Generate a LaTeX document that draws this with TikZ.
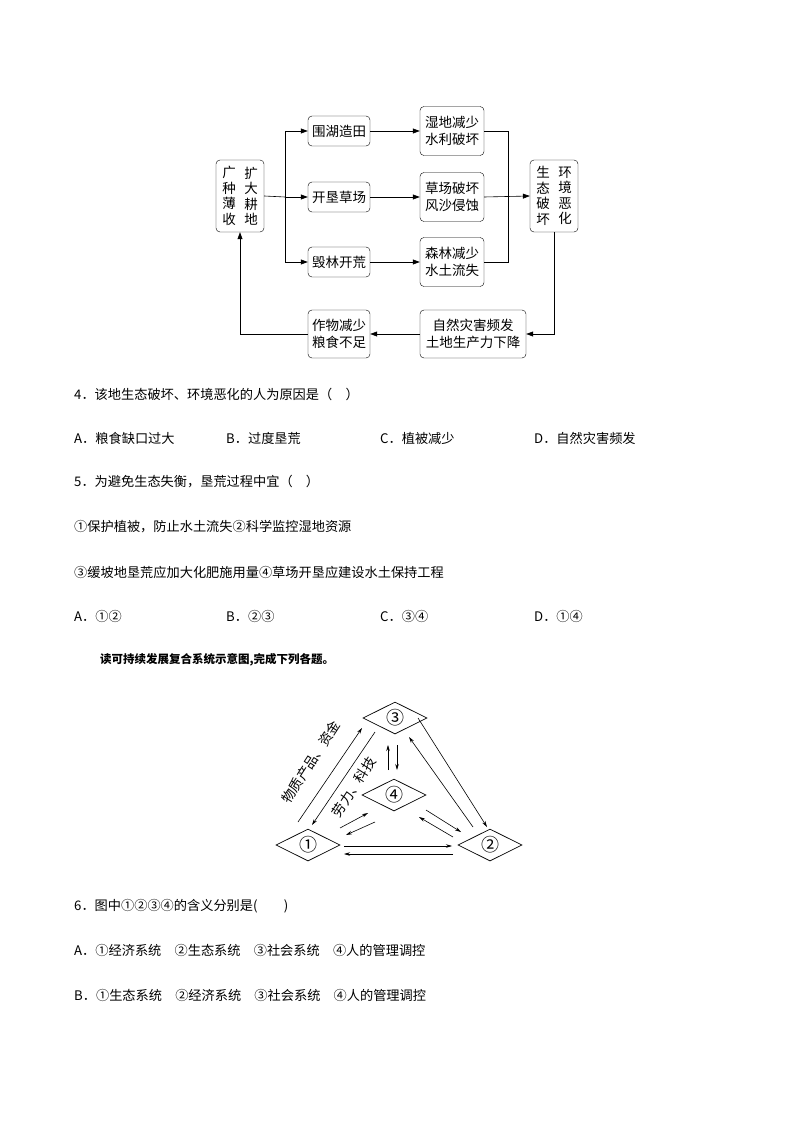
\documentclass[tikz,border=0pt]{standalone}
\usepackage{fontspec}
\newfontfamily\cjk{Noto Sans CJK SC}
\usetikzlibrary{shapes.geometric,arrows.meta}
\begin{document}
\begin{tikzpicture}[x=1pt,y=-1pt,
  box/.style={draw,rounded corners=4pt,font=\cjk\fontsize{13.5}{17}\selectfont,align=center,inner sep=0pt},
  vt/.style={font=\cjk\fontsize{13.5}{15.5}\selectfont,align=center},
  arr/.style={-{Triangle[length=7pt,width=5pt]},line width=0.6pt},
  dia/.style={draw,diamond,aspect=2,minimum width=64pt,minimum height=32pt,inner sep=0pt,line width=0.7pt,font=\cjk\fontsize{18}{18}\selectfont},
  tarr/.style={-{Stealth[length=6pt,width=3.5pt]},line width=0.6pt},
  lab/.style={font=\cjk\fontsize{13.5}{14}\selectfont,rotate=57,inner sep=0pt},
  q/.style={anchor=west,font=\cjk\fontsize{13.2}{15}\selectfont,inner sep=0pt}]
\useasboundingbox (0,0) rectangle (794,1123);
% flowchart
\node[box,minimum width=48pt,minimum height=72pt] (a) at (240,196) {};
\node[vt] at (229,196) {广\\种\\薄\\收};
\node[vt] at (251,196) {扩\\大\\耕\\地};
\node[box,minimum width=62pt,minimum height=30pt] (b1) at (339,131) {围湖造田};
\node[box,minimum width=62pt,minimum height=30pt] (b2) at (339,197) {开垦草场};
\node[box,minimum width=62pt,minimum height=30pt] (b3) at (339,262) {毁林开荒};
\node[box,minimum width=64pt,minimum height=49pt] (c1) at (452,131) {湿地减少\\水利破坏};
\node[box,minimum width=64pt,minimum height=49pt] (c2) at (452,197) {草场破坏\\风沙侵蚀};
\node[box,minimum width=64pt,minimum height=49pt] (c3) at (452,262) {森林减少\\水土流失};
\node[box,minimum width=48pt,minimum height=72pt] (d) at (554,196) {};
\node[vt] at (543,196) {生\\态\\破\\坏};
\node[vt] at (565,196) {环\\境\\恶\\化};
\node[box,minimum width=106pt,minimum height=48pt] (e) at (473,334) {自然灾害频发\\土地生产力下降};
\node[box,minimum width=62pt,minimum height=48pt] (f) at (339,334) {作物减少\\粮食不足};
\coordinate (s) at (285,197);
\draw[line width=0.6pt] (a.east) -- (s);
\draw[arr] (s) |- (b1.west);
\draw[arr] (s) -- (b2.west);
\draw[arr] (s) |- (b3.west);
\draw[arr] (b1) -- (c1);
\draw[arr] (b2) -- (c2);
\draw[arr] (b3) -- (c3);
\coordinate (m) at (508,197);
\draw[line width=0.6pt] (c1.east) -| (m) (c3.east) -| (m);
\draw[arr] (c2.east) -- (d.west);
\draw[arr] (d.south) |- (e.east);
\draw[arr] (e) -- (f);
\draw[arr] (f.west) -| (a.south);
% questions
\node[q] at (74,394) {4．该地生态破坏、环境恶化的人为原因是（　）};
\node[q] at (74,438) {A．粮食缺口过大};
\node[q] at (226,438) {B．过度垦荒};
\node[q] at (380,438) {C．植被减少};
\node[q] at (534,438) {D．自然灾害频发};
\node[q] at (74,482) {5．为避免生态失衡，垦荒过程中宜（　）};
\node[q] at (74,527) {①保护植被，防止水土流失②科学监控湿地资源};
\node[q] at (74,572) {③缓坡地垦荒应加大化肥施用量④草场开垦应建设水土保持工程};
\node[q] at (74,616) {A．①②};
\node[q] at (226,616) {B．②③};
\node[q] at (380,616) {C．③④};
\node[q] at (534,616) {D．①④};
\node[q,font=\cjk\bfseries\fontsize{11.5}{13}\selectfont] at (100,660) {读可持续发展复合系统示意图,完成下列各题。};
\node[q] at (74,906) {6．图中①②③④的含义分别是(　　)};
\node[q] at (74,950) {A．①经济系统　②生态系统　③社会系统　④人的管理调控};
\node[q] at (74,995) {B．①生态系统　②经济系统　③社会系统　④人的管理调控};
% triangle
\node[dia] (n3) at (395,718) {③};
\node[dia] (n1) at (308,845) {①};
\node[dia] (n2) at (490,845) {②};
\node[dia] (n4) at (394,795) {④};
\coordinate (p1) at (375,732); \coordinate (p2) at (312,825);
\draw[tarr] (p1) -- (p2);
\coordinate (p3) at (298,822); \coordinate (p4) at (362,728);
\draw[tarr] (p3) -- (p4);
\coordinate (p5) at (418,718); \coordinate (p6) at (487,827);
\draw[tarr] (p5) -- (p6);
\coordinate (p7) at (473,827); \coordinate (p8) at (409,737);
\draw[tarr] (p7) -- (p8);
\coordinate (p9) at (344,846); \coordinate (p10) at (452,846);
\draw[tarr] (p9) -- (p10);
\coordinate (p11) at (453,854); \coordinate (p12) at (344,854);
\draw[tarr] (p11) -- (p12);
\coordinate (q1) at (388,770); \coordinate (q2) at (388,745);
\draw[tarr] (q1) -- (q2);
\coordinate (q3) at (397,745); \coordinate (q4) at (397,770);
\draw[tarr] (q3) -- (q4);
\coordinate (q5) at (340,828); \coordinate (q6) at (368,813);
\draw[tarr] (q5) -- (q6);
\coordinate (q7) at (375,822); \coordinate (q8) at (346,835);
\draw[tarr] (q7) -- (q8);
\coordinate (q9) at (426,810); \coordinate (q10) at (461,832);
\draw[tarr] (q9) -- (q10);
\coordinate (q11) at (453,837); \coordinate (q12) at (419,817);
\draw[tarr] (q11) -- (q12);
\node[lab] (l1) at (311,762) {物质产品、资金};
\node[lab] (l2) at (354,787) {劳力、科技};
\end{tikzpicture}
\end{document}
